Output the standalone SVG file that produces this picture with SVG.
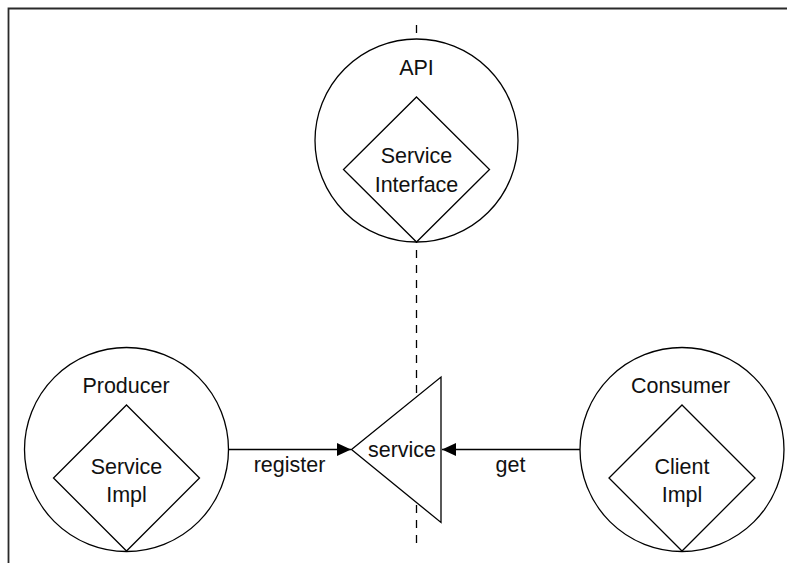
<svg xmlns="http://www.w3.org/2000/svg" width="787" height="563" viewBox="0 0 787 563">
  <style>
    .frame { fill: none; stroke: #2a2a2a; stroke-width: 1.8; }
    .shape { fill: #fff; stroke: #000; stroke-width: 1.3; }
    .edge { fill: none; stroke: #000; stroke-width: 1.3; }
    .dash { fill: none; stroke: #000; stroke-width: 1.3; stroke-dasharray: 8 7; }
    text { font-family: "Liberation Sans", Arial, sans-serif; font-size: 21.5px; fill: #111; text-anchor: middle; }
  </style>
  <defs>
    <marker id="arrow" viewBox="0 0 14 13" refX="14" refY="6.5" markerWidth="14" markerHeight="13" markerUnits="userSpaceOnUse" orient="auto">
      <path d="M0,0 L14,6.5 L0,13 Z" fill="#000"/>
    </marker>
  </defs>
  <rect width="787" height="563" fill="#fff"/>

  <!-- page frame: top and left rules -->
  <path class="frame" d="M8.5,563 V8.5 H787"/>

  <!-- boundary line between API and implementations -->
  <g id="connectors">
    <line class="dash" x1="416.5" y1="25" x2="416.5" y2="546"/>
    <line class="edge" x1="228.5" y1="449.5" x2="351" y2="449.5" marker-end="url(#arrow)"/>
    <line class="edge" x1="580" y1="449.5" x2="442" y2="449.5" marker-end="url(#arrow)"/>
    <text x="289.5" y="471.5">register</text>
    <text x="510.5" y="471.5">get</text>
  </g>

  <g id="api">
    <circle class="shape" cx="416.5" cy="140.5" r="101.5"/>
    <polygon class="shape" points="416.5,97 489.5,169.5 416.5,242 343.5,169.5"/>
    <text x="416.5" y="75">API</text>
    <text x="416.5" y="163">Service</text>
    <text x="416.5" y="192">Interface</text>
  </g>

  <g id="producer">
    <circle class="shape" cx="126.5" cy="449.5" r="102"/>
    <polygon class="shape" points="126.5,405 199.5,478 126.5,551 53.5,478"/>
    <text x="126" y="392.5">Producer</text>
    <text x="126.5" y="473.5">Service</text>
    <text x="126.5" y="502">Impl</text>
  </g>

  <g id="service">
    <polygon class="shape" points="351.5,449.5 441,377 441,522.5"/>
    <text x="402" y="457">service</text>
  </g>

  <g id="consumer">
    <circle class="shape" cx="682" cy="449.5" r="102"/>
    <polygon class="shape" points="682,405 755,478 682,551 609,478"/>
    <text x="680.5" y="392.5">Consumer</text>
    <text x="682" y="473.5">Client</text>
    <text x="682" y="502">Impl</text>
  </g>
</svg>
